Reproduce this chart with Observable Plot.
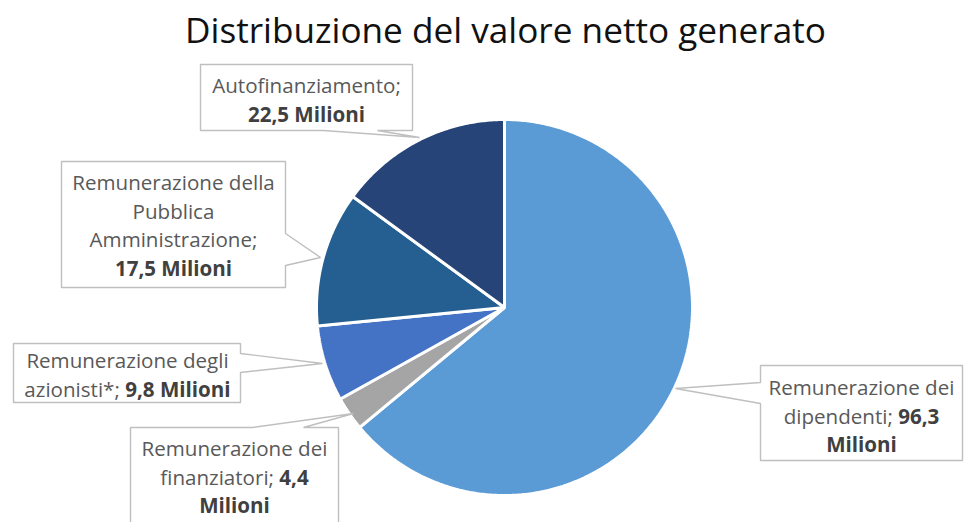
<!DOCTYPE html>
<html><head><meta charset="utf-8">
<script src="https://cdn.jsdelivr.net/npm/d3@7"></script>
<script src="https://cdn.jsdelivr.net/npm/@observablehq/plot@0.6"></script>
<style>html,body{margin:0;padding:0;background:#fff;overflow:hidden}</style>
</head><body><div id="chart"></div>
<script>
// ---- data ----
const title = "Distribuzione del valore netto generato";
const categories = ["Remunerazione dei dipendenti", "Remunerazione dei finanziatori", "Remunerazione degli azionisti*", "Remunerazione della Pubblica Amministrazione", "Autofinanziamento"];
const values = [96.3, 4.4, 9.8, 17.5, 22.5];
const valueLabels = ["96,3 Milioni", "4,4 Milioni", "9,8 Milioni", "17,5 Milioni", "22,5 Milioni"];
const colors = ["#5B9BD5", "#A5A5A5", "#4472C4", "#255E91", "#264478"];
// words per wrapped line in each callout
const lineBreaks = [[2, 2, 1], [2, 2, 1], [2, 3], [2, 1, 1, 2], [1, 2]];

// ---- layout ----
const W = 965, H = 522;
const cx = 504, cy = 307, R = 188;
const FONT = '"Open Sans", "Noto Sans", sans-serif';
const boxes = [
  {pts: [[760,365],[962,365],[962,460],[760,460],[760,403],[675,388],[760,382]], tx: 861, ty: 388},
  {pts: [[130,427],[252,427],[353,413],[303,427],[338,427],[338,545],[130,545]], tx: 234, ty: 449},
  {pts: [[13,343],[240,343],[240,353],[322,363],[240,372],[240,402],[13,402]], tx: 127, ty: 361},
  {pts: [[61,161],[285,161],[285,233],[320,257],[285,265],[285,287],[61,287]], tx: 173, ty: 183},
  {pts: [[200,64],[412,64],[412,130],[377,130],[419,137],[323,130],[200,130]], tx: 306, ty: 86}
];
const lineH = 28.5;

// measure text with a real SVG text node
const NS = "http://www.w3.org/2000/svg";
const msvg = document.createElementNS(NS, "svg");
msvg.setAttribute("width", 10); msvg.setAttribute("height", 10);
msvg.style.position = "absolute"; msvg.style.visibility = "hidden";
const mtext = document.createElementNS(NS, "text");
msvg.appendChild(mtext); document.body.appendChild(msvg);
function tw(text, size, weight) {
  mtext.setAttribute("font-family", FONT);
  mtext.setAttribute("font-size", size);
  mtext.setAttribute("font-weight", weight);
  mtext.textContent = text;
  return mtext.getComputedTextLength();
}
const labelSize = 17 * 186 / tw("Remunerazione dei", 17, 400);
const titleSize = 30 * 641 / tw(title, 30, 400);

// pie slices from the values
const arcs = d3.pie().sort(null).value(d => d)(values);
const slices = arcs.map((a, i) => {
  const pts = [{x: cx, y: cy}];
  const n = Math.max(2, Math.ceil((a.endAngle - a.startAngle) / 0.01));
  for (let k = 0; k <= n; k++) {
    const t = a.startAngle + (a.endAngle - a.startAngle) * k / n;
    pts.push({x: cx + R * Math.sin(t), y: cy - R * Math.cos(t)});
  }
  return {pts, color: colors[i]};
});

// label text segments
const segs = [];
categories.forEach((cat, i) => {
  const words = (cat + ";").split(" ").map(w => ({w, b: false}))
    .concat(valueLabels[i].split(" ").map(w => ({w, b: true})));
  let idx = 0;
  lineBreaks[i].forEach((cnt, li) => {
    const lw = words.slice(idx, idx + cnt); idx += cnt;
    const parts = [];
    lw.forEach(o => {
      const last = parts[parts.length - 1];
      if (last && last.b === o.b) last.t += " " + o.w; else parts.push({t: o.w, b: o.b});
    });
    const widths = parts.map(p => tw(p.t, labelSize, p.b ? 700 : 400));
    const space = tw("a a", labelSize, 400) - tw("aa", labelSize, 400);
    const total = widths.reduce((s, v) => s + v, 0) + space * (parts.length - 1);
    let x = boxes[i].tx - total / 2;
    parts.forEach((p, k) => {
      segs.push({x, y: boxes[i].ty + li * lineH, text: p.t, bold: p.b});
      x += widths[k] + space;
    });
  });
});
msvg.remove();

const marks = [];
slices.forEach(s => marks.push(Plot.line(s.pts, {x: "x", y: "y", curve: "linear-closed", fill: s.color, stroke: "white", strokeWidth: 3, strokeLinejoin: "miter"})));
boxes.forEach(b => marks.push(Plot.line(b.pts.map(([x, y]) => ({x, y})), {x: "x", y: "y", curve: "linear-closed", fill: "white", stroke: "#BFBFBF", strokeWidth: 1.4, strokeLinejoin: "miter"})));
marks.push(Plot.text(segs.filter(d => !d.bold), {x: "x", y: "y", text: "text", textAnchor: "start", fill: "#595959", fontSize: labelSize, fontWeight: 400}));
marks.push(Plot.text(segs.filter(d => d.bold), {x: "x", y: "y", text: "text", textAnchor: "start", fill: "#404040", fontSize: labelSize, fontWeight: 700}));
marks.push(Plot.text([title], {x: () => 505, y: () => 31, text: d => d, fill: "#111", fontSize: titleSize, fontWeight: 400}));

const chart = Plot.plot({
  width: W, height: H, margin: 0,
  style: {fontFamily: FONT, background: "#fff"},
  x: {domain: [0, W], range: [0, W], axis: null},
  y: {domain: [0, H], range: [0, H], axis: null},
  marks
});
document.getElementById("chart").append(chart);
</script>
</body></html>
